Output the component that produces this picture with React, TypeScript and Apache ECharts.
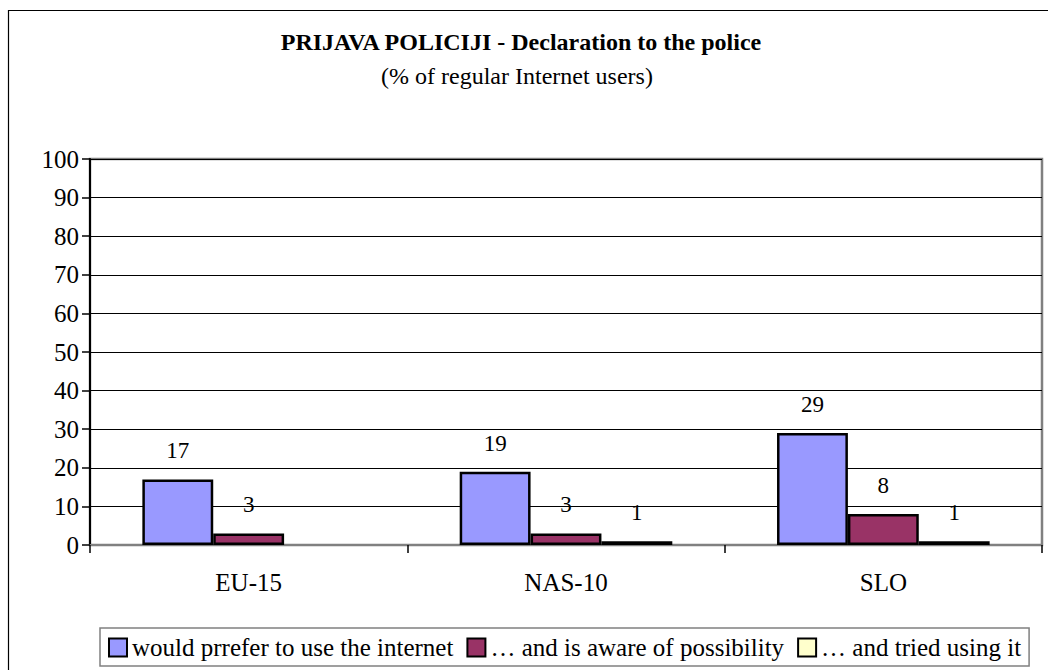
import React, { useEffect, useRef } from "react";
import * as echarts from "echarts";

const categories = ["EU-15", "NAS-10", "SLO"];
const seriesNames = [
  "would prrefer to use the internet",
  "… and is aware of possibility",
  "… and tried using it",
];
const preferValues = [17, 19, 29];
const awareValues = [3, 3, 8];
const triedValues: (number | null)[] = [null, 1, 1];
const colors = ["#9999FF", "#993366", "#FFFFCC"];
const yTicks = { min: 0, max: 100, interval: 10 };

const FONT = "Liberation Serif";

export default function App() {
  const ref = useRef<HTMLDivElement>(null);
  useEffect(() => {
    document.body.style.margin = "0";
    const chart = echarts.init(ref.current!, null, { renderer: "svg" });
    const mk = (name: string, data: (number | null)[], color: string) => ({
      name,
      type: "bar",
      data,
      barGap: "0%",
      barCategoryGap: "33%",
      itemStyle: { color, borderColor: "#000", borderWidth: 2.5 },
      label: {
        show: true,
        position: "top",
        distance: 17,
        fontSize: 23,
        fontFamily: FONT,
        color: "#000",
      },
    });
    chart.setOption({
      animation: false,
      backgroundColor: "#fff",
      title: [
        {
          text: "PRIJAVA POLICIJI - Declaration to the police",
          left: 516,
          top: 25,
          textAlign: "center",
          textStyle: { fontSize: 24, fontWeight: "bold", fontFamily: FONT, color: "#000" },
        },
        {
          text: "(% of regular Internet users)",
          left: 512,
          top: 59,
          textAlign: "center",
          textStyle: { fontSize: 24, fontWeight: "normal", fontFamily: FONT, color: "#000" },
        },
      ],
      graphic: [
        {
          type: "rect",
          shape: { x: 8.5, y: 10.5, width: 1100, height: 700 },
          style: { fill: "none", stroke: "#000", lineWidth: 1.2 },
          silent: true,
          z: 100,
        },
      ],
      legend: {
        left: 100,
        top: 628,
        width: 940,
        padding: [7, 8, 6, 8],
        itemWidth: 18,
        itemHeight: 18,
        itemGap: 13,
        backgroundColor: "#fff",
        borderColor: "#808080",
        borderWidth: 1.5,
        borderRadius: 0,
        icon: "rect",
        textStyle: { fontSize: 25, fontFamily: FONT, color: "#000" },
        data: seriesNames,
      },
      grid: {
        left: 90,
        top: 159,
        right: 6,
        bottom: 125,
        show: true,
        borderColor: "#808080",
        borderWidth: 2.5,
        backgroundColor: "#fff",
      },
      xAxis: {
        type: "category",
        data: categories,
        axisLine: { lineStyle: { color: "#808080", width: 2 } },
        axisTick: { show: true, length: 8, lineStyle: { color: "#000", width: 1.5 } },
        axisLabel: { fontSize: 25, fontFamily: FONT, color: "#000", margin: 25 },
      },
      yAxis: {
        type: "value",
        min: yTicks.min,
        max: yTicks.max,
        interval: yTicks.interval,
        axisLine: { show: true, lineStyle: { color: "#000", width: 2 } },
        axisTick: { show: true, length: 8, lineStyle: { color: "#000", width: 1.5 } },
        axisLabel: { fontSize: 25, fontFamily: FONT, color: "#000", margin: 11 },
        splitLine: { show: true, lineStyle: { color: "#000", width: 1 } },
      },
      series: [
        mk(seriesNames[0], preferValues, colors[0]),
        mk(seriesNames[1], awareValues, colors[1]),
        mk(seriesNames[2], triedValues, colors[2]),
      ],
    });
    return () => chart.dispose();
  }, []);
  return <div ref={ref} style={{ width: 1048, height: 670 }} />;
}
